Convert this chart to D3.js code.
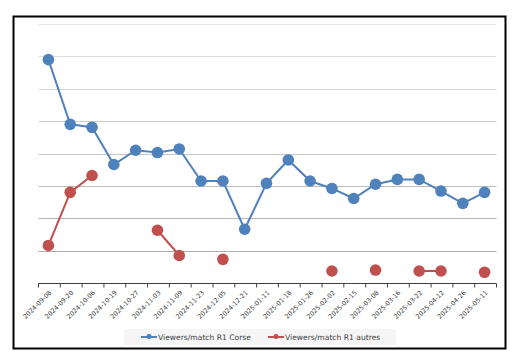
<!DOCTYPE html>
<html>
<head>
<meta charset="utf-8">
<script src="https://cdn.jsdelivr.net/npm/d3@7"></script>
<style>
	body { margin: 0; background: #fff; }
	text { font-family: "DejaVu Sans", sans-serif; }
</style>
</head>
<body>
<div id="chart"></div>
<script>

// match dates (x axis)
var dates= ["2024-09-08", "2024-09-20", "2024-10-06", "2024-10-19", "2024-10-27", "2024-11-03",
	"2024-11-09", "2024-11-23", "2024-12-05", "2024-12-21", "2025-01-11", "2025-01-18",
	"2025-01-26", "2025-02-02", "2025-02-15", "2025-03-08", "2025-03-16", "2025-03-22",
	"2025-04-12", "2025-04-26", "2025-05-11"];

// viewers per match (no y labels in the original)
var corse= [6900, 4900, 4810, 3660, 4100, 4030, 4140, 3150, 3150, 1660, 3080, 3800,
	3150, 2920, 2610, 3050, 3200, 3200, 2840, 2460, 2800];

var autres= [1160, 2800, 3320, null, null, 1630, 850, null, 730, null, null, null,
	null, 370, null, 400, null, 370, 370, null, 330];

var series_names= ["Viewers/match R1 Corse", "Viewers/match R1 autres"];
var series_colors= ["#4f81bd", "#c0504d"];

var y_ticks= [0, 1000, 2000, 3000, 4000, 5000, 6000, 7000, 8000];


function draw_chart() {

	var W= 514, H= 361;
	var margin= {top: 24, right: 17.5, bottom: 78, left: 38.5};
	var width= W- margin.left- margin.right;
	var height= H- margin.top- margin.bottom;

	var svg= d3.select("#chart")
		.append("svg")
		.attr("width", W)
		.attr("height", H);

	// outer frame
	svg.append("rect")
		.attr("x", 13.5)
		.attr("y", 16.5)
		.attr("width", 492)
		.attr("height", 332)
		.attr("fill", "#fff")
		.attr("stroke", "#000")
		.attr("stroke-width", 2);

	var canvas= svg.append("g")
		.attr("transform", "translate(" + margin.left + "," + margin.top + ")");

	var x= d3.scaleBand()
		.domain(dates)
		.range([0, width]);

	var y= d3.scaleLinear()
		.domain([0, 8000])
		.range([height, 0]);

	// gridlines, lighter near the top like the original
	var grid_color= d3.scaleLinear()
		.domain([1000, 8000])
		.range(["#adadad", "#e6e6e6"]);

	canvas.append("g")
		.selectAll("line")
		.data(y_ticks.slice(1))
		.enter().append("line")
			.attr("x1", 0)
			.attr("x2", width)
			.attr("y1", function(d) { return Math.round(y(d))+ 0.5; })
			.attr("y2", function(d) { return Math.round(y(d))+ 0.5; })
			.attr("stroke", function(d) { return grid_color(d); })
			.attr("stroke-width", 1);

	// x axis, ticks between categories
	var x_axis= canvas.append("g")
		.attr("transform", "translate(0," + (Math.round(height)+ 0.5) + ")");

	x_axis.append("line")
		.attr("x1", 0)
		.attr("x2", width)
		.attr("stroke", "#404040");

	x_axis.selectAll(".tick")
		.data(dates.concat(["end"]))
		.enter().append("line")
			.attr("x1", function(d, i) { return i* x.step(); })
			.attr("x2", function(d, i) { return i* x.step(); })
			.attr("y1", 0)
			.attr("y2", 4)
			.attr("stroke", "#404040");

	x_axis.selectAll(".lab")
		.data(dates)
		.enter().append("text")
			.attr("class", "lab")
			.attr("transform", function(d) {
				return "translate(" + (x(d)+ x.bandwidth()/ 2+ 1) + ",8) rotate(-45)";
			})
			.attr("text-anchor", "end")
			.attr("dy", "0.35em")
			.attr("font-size", "6.4px")
			.attr("fill", "#404040")
			.text(function(d) { return d; });

	var cx= function(d) { return x(dates[d.i])+ x.bandwidth()/ 2- 1; };

	var line= d3.line()
		.defined(function(d) { return d.v!= null; })
		.x(cx)
		.y(function(d) { return y(d.v); });

	[corse, autres].forEach(function(vals, k) {

		var pts= vals.map(function(v, i) { return {i: i, v: v}; });

		canvas.append("path")
			.datum(pts)
			.attr("fill", "none")
			.attr("stroke", series_colors[k])
			.attr("stroke-width", 2)
			.attr("d", line);

		canvas.append("g")
			.selectAll("circle")
			.data(pts.filter(function(d) { return d.v!= null; }))
			.enter().append("circle")
				.attr("cx", cx)
				.attr("cy", function(d) { return y(d.v); })
				.attr("r", 5.8)
				.attr("fill", series_colors[k]);
	});

	// legend
	var legend= svg.append("g");

	legend.append("rect")
		.attr("x", 124)
		.attr("y", 329)
		.attr("width", 272)
		.attr("height", 16)
		.attr("fill", "#f5f5f5");

	var leg_x= [141, 268];

	series_names.forEach(function(name, k) {

		var item= legend.append("g")
			.attr("transform", "translate(" + leg_x[k] + ",337)");

		item.append("line")
			.attr("x1", 0)
			.attr("x2", 16)
			.attr("stroke", series_colors[k])
			.attr("stroke-width", 2);

		item.append("circle")
			.attr("cx", 8)
			.attr("cy", -0.5)
			.attr("r", 2.5)
			.attr("fill", series_colors[k]);

		item.append("text")
			.attr("x", 17)
			.attr("dy", "0.35em")
			.attr("font-size", "7.6px")
			.attr("fill", "#404040")
			.text(name);
	});
};

draw_chart();
</script>
</body>
</html>
